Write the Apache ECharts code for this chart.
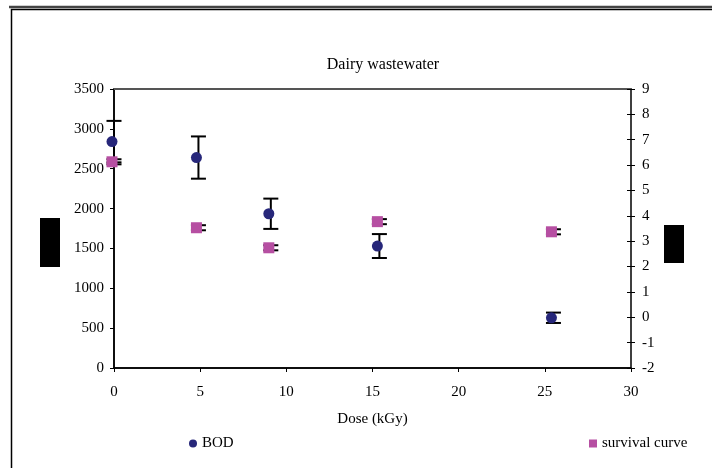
<!DOCTYPE html>
<html>
<head>
<meta charset="utf-8">
<script src="https://cdn.jsdelivr.net/npm/echarts@6/dist/echarts.min.js"></script>
<style>
  html, body { margin: 0; padding: 0; background: #fff; }
  #chart { width: 712px; height: 468px; }
</style>
</head>
<body>
<div id="chart"></div>
<script>
// Dose (kGy) for each sample
var doses = [0, 4.9, 9.1, 15.4, 25.5];
// BOD (left axis) with its error half-width
var bodValues = [2840, 2640, 1935, 1530, 630];
var bodErrors = [260, 265, 190, 150, 65];
// Survival curve (right axis) with its error half-width
var survivalValues = [6.13, 3.53, 2.74, 3.77, 3.37];
var survivalErrors = [0.1, 0.1, 0.1, 0.1, 0.1];
// Axis tick settings
var xTicks = { min: 0, max: 30, interval: 5 };
var leftTicks = { min: 0, max: 3500, interval: 500 };
var rightTicks = { min: -2, max: 9, interval: 1 };

var serif = 'Liberation Serif';
var navy = '#27277a';
var magenta = '#b64fa2';

function pairs(xs, ys) {
  return xs.map(function (x, i) { return [x, ys[i]]; });
}
function errorRows(xs, ys, es) {
  return xs.map(function (x, i) { return [x, ys[i] - es[i], ys[i] + es[i]]; });
}
function plain(v) { return String(v); }

// Vertical error bar with flat caps
function renderError(params, api) {
  var x = api.value(0);
  var lo = api.coord([x, api.value(1)]);
  var hi = api.coord([x, api.value(2)]);
  var half = 7.5;
  var style = { stroke: '#000', lineWidth: 2 };
  return {
    type: 'group',
    children: [
      { type: 'line', shape: { x1: lo[0], y1: lo[1], x2: hi[0], y2: hi[1] }, style: style },
      { type: 'line', shape: { x1: lo[0] - half, y1: lo[1], x2: lo[0] + half, y2: lo[1] }, style: style },
      { type: 'line', shape: { x1: hi[0] - half, y1: hi[1], x2: hi[0] + half, y2: hi[1] }, style: style }
    ]
  };
}

var labelFont = { color: '#000', fontFamily: serif, fontSize: 15 };

var chart = echarts.init(document.getElementById('chart'), null, { renderer: 'canvas' });
chart.setOption({
  animation: false,
  backgroundColor: '#fff',
  title: {
    text: 'Dairy wastewater',
    left: 378,
    top: 52,
    textAlign: 'center',
    textStyle: { color: '#000', fontFamily: serif, fontSize: 16, fontWeight: 'normal' }
  },
  grid: {
    left: 114, right: 81, top: 89, bottom: 100,
    show: true, borderColor: '#000', borderWidth: 1.5, backgroundColor: 'transparent'
  },
  legend: [
    {
      data: ['BOD'], left: 189, top: 436, padding: 0,
      itemWidth: 8, itemHeight: 8, itemGap: 6,
      textStyle: labelFont
    },
    {
      data: ['survival curve'], left: 589, top: 436, padding: 0,
      itemWidth: 8, itemHeight: 8, itemGap: 6,
      textStyle: labelFont
    }
  ],
  xAxis: [
    {
      type: 'value', min: xTicks.min, max: xTicks.max, interval: xTicks.interval,
      name: 'Dose (kGy)', nameLocation: 'middle', nameGap: 44, nameMoveOverlap: false,
      nameTextStyle: labelFont,
      axisLine: { onZero: false, lineStyle: { color: '#000', width: 1.5 } },
      axisTick: { inside: false, length: 4, lineStyle: { color: '#000' } },
      axisLabel: Object.assign({ margin: 17, formatter: plain }, labelFont),
      splitLine: { show: false }
    },
    {
      // darker rule along the top of the plot
      type: 'value', position: 'top', min: xTicks.min, max: xTicks.max,
      axisLine: { onZero: false, lineStyle: { color: '#555', width: 2 } },
      axisTick: { show: false }, axisLabel: { show: false }, splitLine: { show: false }
    }
  ],
  yAxis: [
    {
      type: 'value', position: 'left', min: leftTicks.min, max: leftTicks.max, interval: leftTicks.interval,
      axisLine: { show: true, onZero: false, lineStyle: { color: '#000', width: 1.5 } },
      axisTick: { show: true, inside: false, length: 4, lineStyle: { color: '#000' } },
      axisLabel: Object.assign({ margin: 10, formatter: plain }, labelFont),
      splitLine: { show: false }
    },
    {
      // shifted inward so its ticks cross the right border of the plot
      type: 'value', position: 'right', offset: -4,
      min: rightTicks.min, max: rightTicks.max, interval: rightTicks.interval,
      axisLine: { show: false, onZero: false },
      axisTick: { show: true, inside: false, length: 8, lineStyle: { color: '#000' } },
      axisLabel: Object.assign({ margin: 15, formatter: plain }, labelFont),
      splitLine: { show: false }
    }
  ],
  graphic: [
    {
      type: 'rect', left: 9, top: 7, silent: true, z: -1,
      shape: { width: 720, height: 480 },
      style: { fill: 'none', stroke: '#000', lineWidth: 1.5 }
    },
    {
      type: 'line', silent: true,
      shape: { x1: 9, y1: 7, x2: 712, y2: 7 },
      style: { stroke: '#444', lineWidth: 2.5 }
    },
    { type: 'rect', left: 40, top: 218, shape: { width: 20, height: 49 }, style: { fill: '#000' } },
    { type: 'rect', left: 664, top: 225, shape: { width: 20, height: 38 }, style: { fill: '#000' } }
  ],
  series: [
    {
      name: 'BOD error', type: 'custom', xAxisIndex: 0, yAxisIndex: 0, z: 2,
      renderItem: renderError, encode: { x: 0, y: [1, 2] },
      data: errorRows(doses, bodValues, bodErrors)
    },
    {
      name: 'survival error', type: 'custom', xAxisIndex: 0, yAxisIndex: 1, z: 2,
      renderItem: renderError, encode: { x: 0, y: [1, 2] },
      data: errorRows(doses, survivalValues, survivalErrors)
    },
    {
      name: 'BOD', type: 'scatter', xAxisIndex: 0, yAxisIndex: 0, z: 3,
      symbol: 'circle', symbolSize: 11, symbolOffset: [-2, 0],
      itemStyle: { color: navy, opacity: 1 },
      data: pairs(doses, bodValues)
    },
    {
      name: 'survival curve', type: 'scatter', xAxisIndex: 0, yAxisIndex: 1, z: 3,
      symbol: 'rect', symbolSize: 11, symbolOffset: [-2, 0],
      itemStyle: { color: magenta, opacity: 1 },
      data: pairs(doses, survivalValues)
    }
  ]
});
</script>
</body>
</html>
